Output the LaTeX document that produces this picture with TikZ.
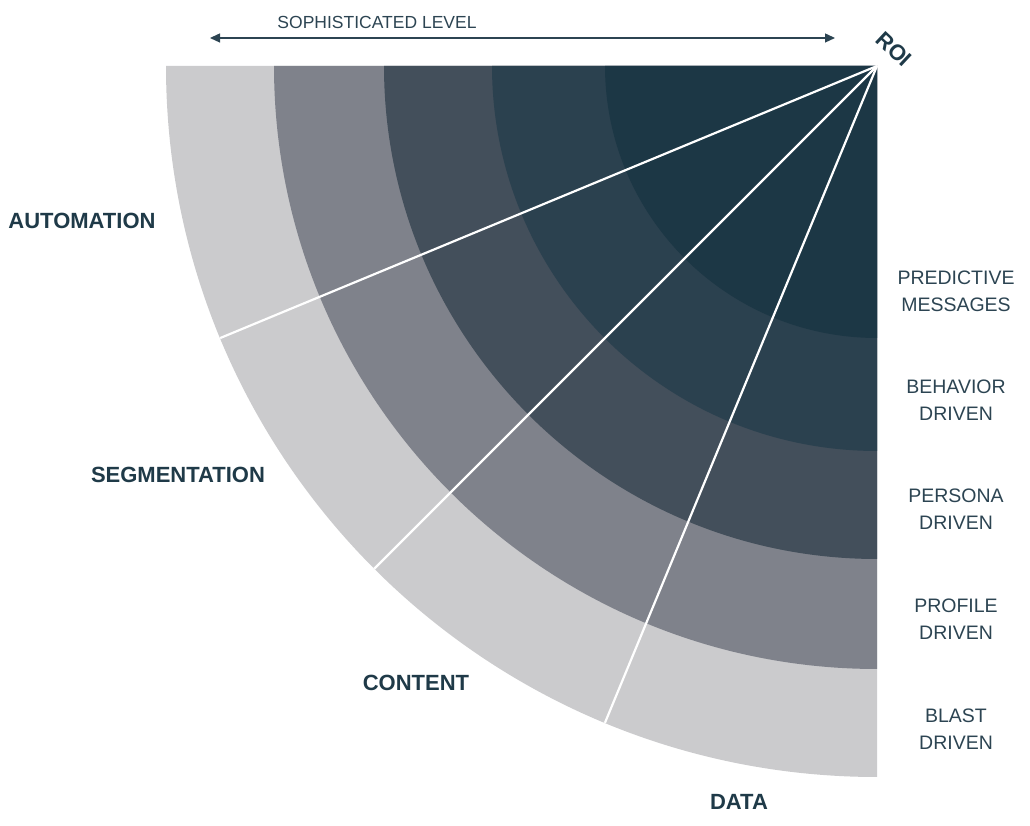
\documentclass[tikz,border=0pt]{standalone}
\usepackage{fontspec}
\setmainfont{Liberation Sans}
\usetikzlibrary{arrows.meta}
\definecolor{bandA}{HTML}{CBCBCD}
\definecolor{bandB}{HTML}{7F828B}
\definecolor{bandC}{HTML}{434F5B}
\definecolor{bandD}{HTML}{2B414F}
\definecolor{bandE}{HTML}{1C3745}
\definecolor{txtreg}{HTML}{2C4452}
\definecolor{txtbold}{HTML}{1F3A48}
\begin{document}
\begin{tikzpicture}[x=1pt,y=1pt,
  bigtag/.style={font=\fontsize{22}{26}\selectfont\bfseries, text=txtbold, inner sep=0pt},
  sidetag/.style={font=\fontsize{19.5}{27}\selectfont, text=txtreg, align=center, inner sep=0pt},
  toptag/.style={font=\fontsize{17.5}{20}\selectfont, text=txtreg, inner sep=0pt},
  ray/.style={draw=white, line width=2.2pt}]
\useasboundingbox (0,0) rectangle (1030,826);
\coordinate (C) at (877,760);
% bands
\fill[bandA] (C) -- ++(180:711) arc[start angle=180,end angle=270,radius=711] -- cycle;
\fill[bandB] (C) -- ++(180:603) arc[start angle=180,end angle=270,radius=603] -- cycle;
\fill[bandC] (C) -- ++(180:493) arc[start angle=180,end angle=270,radius=493] -- cycle;
\fill[bandD] (C) -- ++(180:385) arc[start angle=180,end angle=270,radius=385] -- cycle;
\fill[bandE] (C) -- ++(180:272) arc[start angle=180,end angle=270,radius=272] -- cycle;
% rays
\path (C) ++(202.5:711) coordinate (e1);
\path (C) ++(225:711) coordinate (e2);
\path (C) ++(247.5:711) coordinate (e3);
\draw[ray] (C) -- (e1);
\draw[ray] (C) -- (e2);
\draw[ray] (C) -- (e3);
% top arrow
\node[toptag] (soph) at (377,804) {SOPHISTICATED LEVEL};
\coordinate (aL) at (210,788);
\coordinate (aR) at (835,788);
\draw[txtreg, line width=1.3pt, {Triangle[length=10pt,width=9pt]}-{Triangle[length=10pt,width=9pt]}] (aL) -- (aR);
\node[bigtag, rotate=-43] (roi) at (894,777) {ROI};
% left labels
\node[bigtag] (auto) at (82,605) {AUTOMATION};
\node[bigtag] (seg) at (178,351) {SEGMENTATION};
\node[bigtag] (cont) at (416,143) {CONTENT};
\node[bigtag] (data) at (739,24) {DATA};
% right labels
\node[sidetag] (pred) at (956,534.5) {PREDICTIVE\\MESSAGES};
\node[sidetag] (beh) at (956,426) {BEHAVIOR\\DRIVEN};
\node[sidetag] (pers) at (956,316.5) {PERSONA\\DRIVEN};
\node[sidetag] (prof) at (956,206.5) {PROFILE\\DRIVEN};
\node[sidetag] (blast) at (956,96.5) {BLAST\\DRIVEN};
\end{tikzpicture}
\end{document}
